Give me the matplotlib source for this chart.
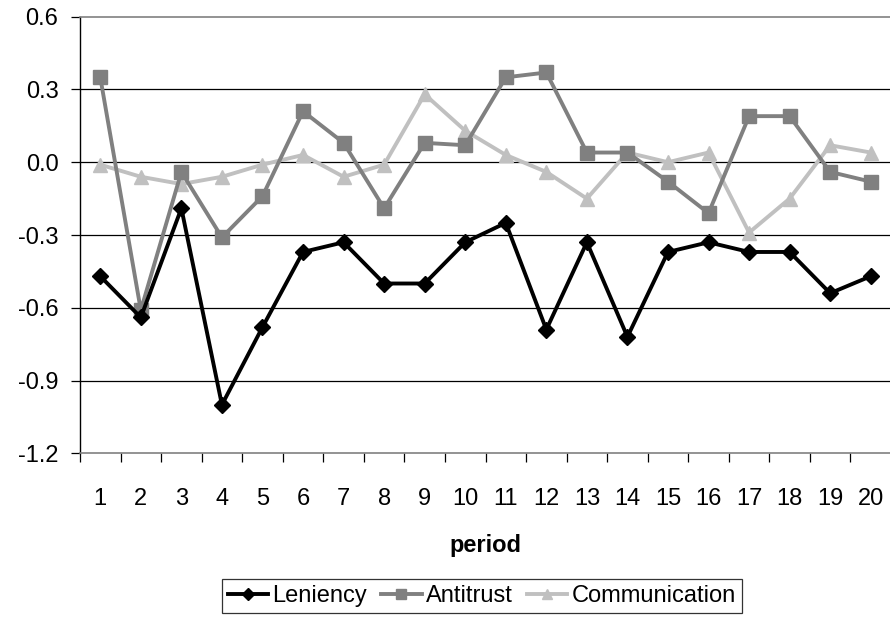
import matplotlib
matplotlib.use("Agg")
import matplotlib.pyplot as plt
import numpy as np
from matplotlib.ticker import FixedLocator

plt.rcParams['font.family'] = ['Liberation Sans', 'DejaVu Sans']

periods = list(range(1, 21))
leniency = [-0.47, -0.64, -0.19, -1.00, -0.68, -0.37, -0.33, -0.50, -0.50, -0.33,
            -0.25, -0.69, -0.33, -0.72, -0.37, -0.33, -0.37, -0.37, -0.54, -0.47]
antitrust = [0.35, -0.61, -0.04, -0.31, -0.14, 0.21, 0.08, -0.19, 0.08, 0.07,
             0.35, 0.37, 0.04, 0.04, -0.08, -0.21, 0.19, 0.19, -0.04, -0.08]
communication = [-0.01, -0.06, -0.09, -0.06, -0.01, 0.03, -0.06, -0.01, 0.28, 0.13,
                 0.03, -0.04, -0.15, 0.04, 0.00, 0.04, -0.29, -0.15, 0.07, 0.04]
yticks = [-1.2, -0.9, -0.6, -0.3, 0.0, 0.3, 0.6]
ytick_labels = ["-1.2", "-0.9", "-0.6", "-0.3", "0.0", "0.3", "0.6"]

fig = plt.figure(figsize=(8.9, 6.19), dpi=100)
ax = fig.add_axes([80/890, 1-453.3/619, 811/890, (453.3-16.7)/619])

FS = 17
ax.set_ylim(-1.2, 0.6)
ax.set_xlim(0.5, 20.5)
ax.set_yticks(yticks)
ax.set_yticklabels(ytick_labels)
ax.set_xticks(periods)
ax.set_xticklabels([str(p) for p in periods])
ax.xaxis.set_minor_locator(FixedLocator(np.arange(0.5, 21, 1.0)))

for y in yticks[1:-1]:
    ax.axhline(y, color='black', lw=0.9, zorder=1)

ax.plot(periods, leniency, color='black', lw=2.8, marker='D', markersize=8,
        label='Leniency', zorder=5)
ax.plot(periods, antitrust, color='#808080', lw=2.8, marker='s', markersize=9.5,
        label='Antitrust', zorder=4)
ax.plot(periods, communication, color='#C0C0C0', lw=2.8, marker='^', markersize=10,
        label='Communication', zorder=3)

for s in ['top', 'right', 'bottom']:
    ax.spines[s].set_color('#808080')
    ax.spines[s].set_linewidth(1.2)
ax.spines['left'].set_color('black')
ax.spines['left'].set_linewidth(1.0)

ax.tick_params(axis='y', which='major', direction='out', length=6.5, width=0.9,
               pad=9, labelsize=FS, colors='black')
ax.tick_params(axis='x', which='major', length=0, pad=25, labelsize=FS)
ax.tick_params(axis='x', which='minor', direction='out', length=6.5, width=0.9,
               color='black')

ax.set_xlabel('period', fontsize=FS, fontweight='bold', labelpad=17)

leg = fig.legend(loc='upper center', bbox_to_anchor=(482/890, 1-579/619),
                 ncol=3, fontsize=FS, frameon=True, fancybox=False,
                 edgecolor='black', handlelength=1.7, handletextpad=0.2,
                 columnspacing=0.6, borderpad=0.25, borderaxespad=0,
                 markerscale=0.75)
leg.get_frame().set_linewidth(0.9)

fig.savefig('out.png', dpi=100)
